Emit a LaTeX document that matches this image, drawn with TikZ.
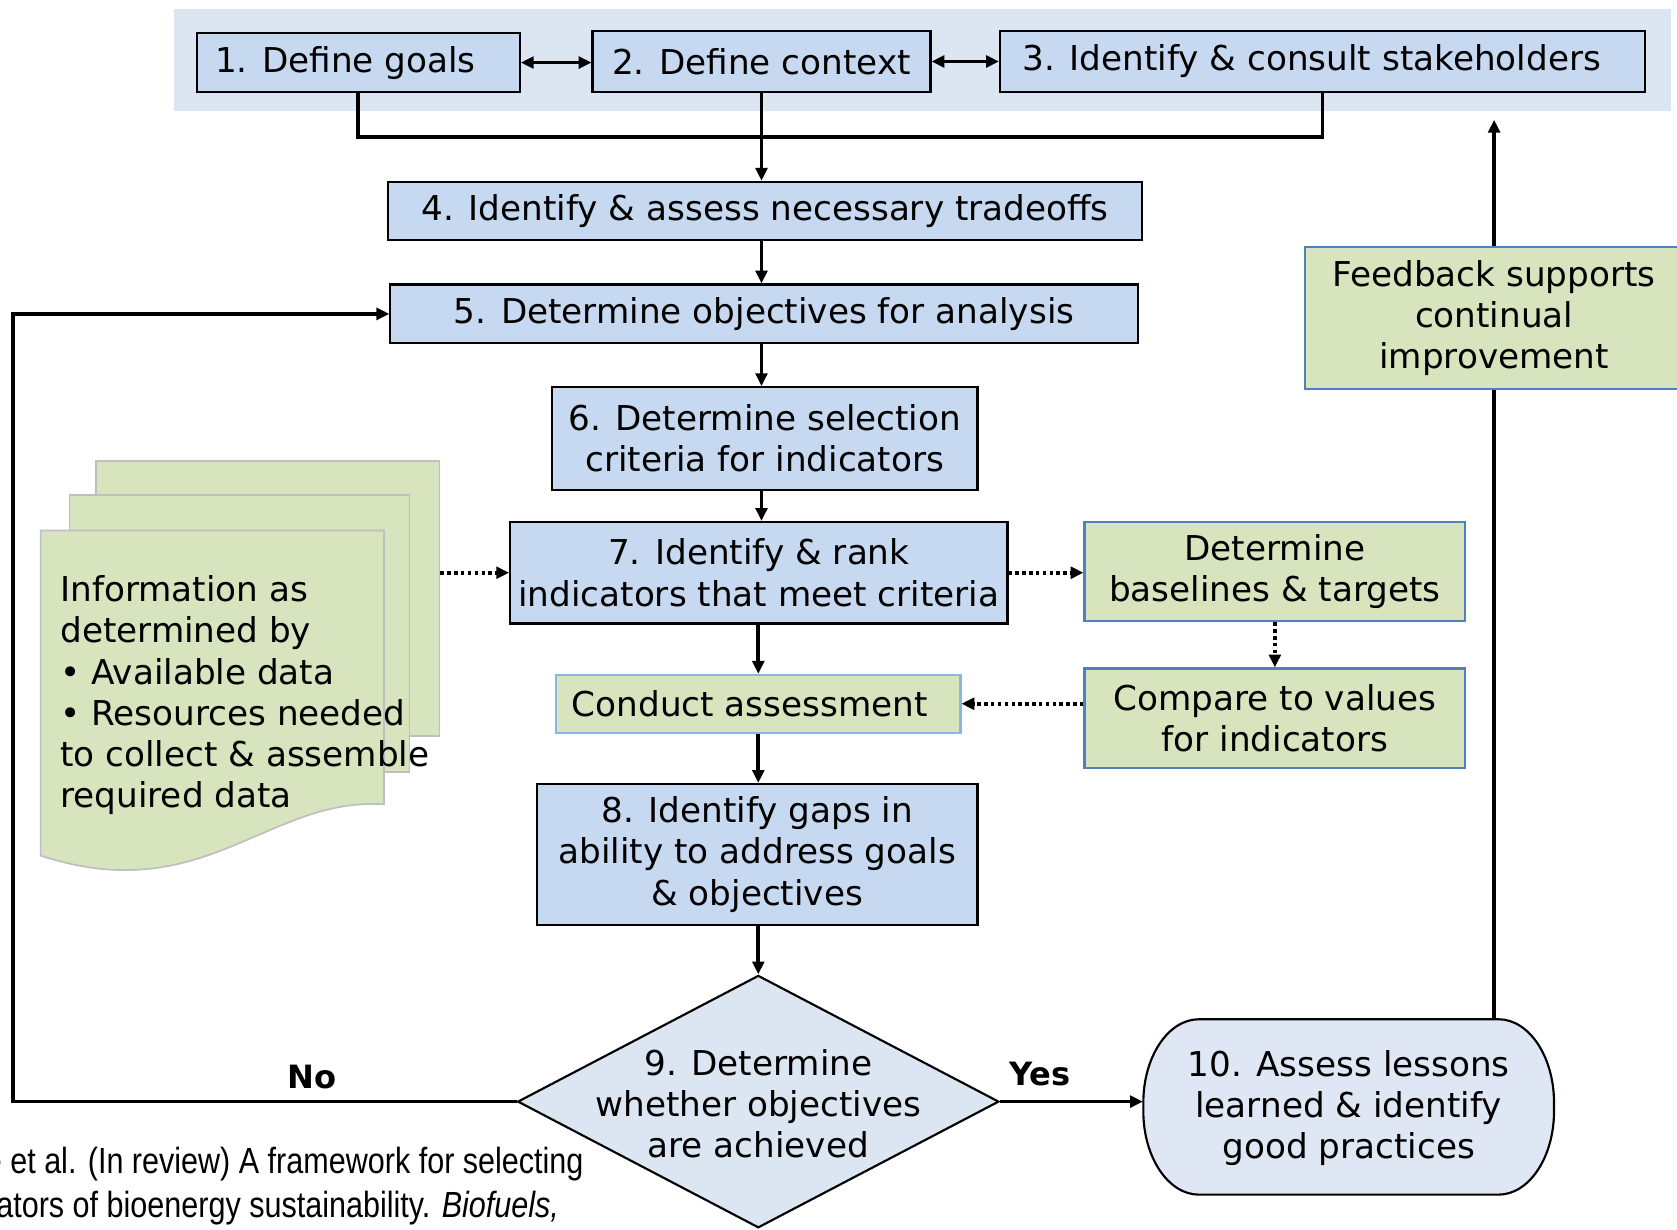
\documentclass[tikz,border=0pt]{standalone}
\usepackage{fontspec}
\setmainfont{DejaVu Sans}
\newfontfamily\citefont[FakeStretch=0.84]{Liberation Sans}
\usetikzlibrary{arrows.meta,shapes.geometric}
\definecolor{bandc}{HTML}{DCE6F2}
\definecolor{boxc}{HTML}{C6D9F1}
\definecolor{greenc}{HTML}{D7E4BD}
\definecolor{gborder}{HTML}{4F81BD}
\definecolor{cborder}{HTML}{8DB3E2}
\definecolor{sheetb}{HTML}{BFBFBF}
\definecolor{lightc}{HTML}{DEE7F3}
\begin{document}
\begin{tikzpicture}[x=0.5pt,y=-0.5pt,
 txt/.style={font=\fontsize{16pt}{19.25pt}\selectfont, align=center},
 bluebox/.style={txt, draw=black, line width=1pt, fill=boxc, inner sep=0pt},
 greenbox/.style={txt, draw=gborder, line width=1pt, fill=greenc, inner sep=0pt},
 sheet/.style={draw=sheetb, line width=0.8pt, fill=greenc},
 conn/.style={line width=1.7pt},
 arr/.style={conn, -{Triangle[length=6pt,width=5.5pt]}},
 dbl/.style={conn, {Triangle[length=6pt,width=5.5pt]}-{Triangle[length=6pt,width=5.5pt]}},
 dotarr/.style={arr, dash pattern=on 1.6pt off 1.6pt},
 lbl/.style={font=\fontsize{15pt}{18pt}\selectfont\bfseries, inner sep=0pt},
 cit/.style={anchor=east, inner sep=0pt, font=\citefont\fontsize{17pt}{21pt}\selectfont},
]
\useasboundingbox (0,0) rectangle (1568,1150);

% top band
\node[fill=bandc, minimum width=699.5pt, minimum height=48pt, inner sep=0pt] (band) at (862.5,56) {};

% main boxes
\node[bluebox, minimum width=151pt, minimum height=27.5pt] (b1) at (335,58.5) {1. Define goals\hspace*{12pt}};
\node[bluebox, minimum width=158pt, minimum height=28.5pt] (b2) at (712,57.5) {2. Define context};
\node[bluebox, minimum width=301.5pt, minimum height=28.5pt] (b3) at (1236.5,57.5) {3. Identify \& consult stakeholders\hspace*{10pt}};
\node[bluebox, minimum width=352.5pt, minimum height=27pt] (b4) at (715.5,197) {4. Identify \& assess necessary tradeoffs};
\node[bluebox, minimum width=349.5pt, minimum height=27.5pt] (b5) at (714.5,293.5) {5. Determine objectives for analysis};
\node[bluebox, minimum width=199pt, minimum height=48pt] (b6) at (715,410) {6. Determine selection\\criteria for indicators};
\node[bluebox, minimum width=232.5pt, minimum height=47.5pt] (b7) at (709.5,535.5) {7. Identify \& rank\\indicators that meet criteria};
\node[greenbox, minimum width=178pt, minimum height=46.5pt] (bb) at (1192,534.5) {Determine\\baselines \& targets};
\node[greenbox, minimum width=178pt, minimum height=46.5pt] (cmp) at (1192,671.5) {Compare to values\\for indicators};
\node[greenbox, draw=cborder, minimum width=189pt, minimum height=27pt] (ca) at (709,658) {Conduct assessment\hspace*{8pt}};
\node[bluebox, minimum width=206pt, minimum height=66pt] (b8) at (708,799) {8. Identify gaps in\\ability to address goals\\\& objectives};

% decision diamond
\node[diamond, draw=black, line width=1pt, fill=bandc, minimum width=225pt, minimum height=118pt, inner sep=0pt] (d9) at (709,1030) {};
\node[txt] (d9t) at (709,1032) {9. Determine\\whether objectives\\are achieved};

% box 10 (rounded ends)
\node[minimum width=192pt, minimum height=82pt, inner sep=0pt] (b10) at (1261,1035) {};
\draw[line width=1pt, fill=lightc] (1121,953) -- (1401,953)
  .. controls (1429.7,953) and (1453,988) .. (1453,1031) -- (1453,1039)
  .. controls (1453,1082) and (1429.7,1117) .. (1401,1117) -- (1121,1117)
  .. controls (1092.3,1117) and (1069,1082) .. (1069,1039) -- (1069,1031)
  .. controls (1069,988) and (1092.3,953) .. (1121,953) -- cycle;
\node[txt] (b10t) at (1261,1036) {10. Assess lessons\\learned \& identify\\good practices};

% feedback box
\node[greenbox, minimum width=177pt, minimum height=66.5pt] (fb) at (1397,297.5) {Feedback supports\\continual\\improvement};

% document stack
\node[sheet, minimum width=160.5pt, minimum height=128.5pt, inner sep=0pt] (docback) at (250.5,559.5) {};
\node[sheet, minimum width=159pt, minimum height=129.5pt, inner sep=0pt] (docmid) at (224,592.5) {};
\draw[sheet] (38,496) -- (359,496) -- (359,752) .. controls (250,745) and (190,850) .. (38,800) -- cycle;
\node[txt, align=left, anchor=west, inner sep=0pt] (doct) at (56,650) {Information as\\determined by\\• Available data\\• Resources needed\\to collect \& assemble\\required data};

% connectors
\coordinate (j) at (712,128);
\draw[conn] (b1.south) -- (b1.south |- j) -- (b3.south |- j) -- (b3.south);
\draw[dbl] (b1.east) -- (b1.east -| b2.west);
\draw[dbl] (b2.east) -- (b3.west);
\draw[arr] (b2.south) -- (b2.south |- b4.north);
\draw[arr] (b2.south |- b4.south) -- (b2.south |- b5.north);
\draw[arr] (b2.south |- b5.south) -- (b2.south |- b6.north);
\draw[arr] (b2.south |- b6.south) -- (b2.south |- b7.north);
\draw[arr] (ca.north |- b7.south) -- (ca.north);
\draw[arr] (ca.south) -- (ca.south |- b8.north);
\draw[arr] (d9.north |- b8.south) -- (d9.north);
\draw[arr] (d9.east) -- (d9.east -| b10.west);
\coordinate (nocol) at (12,0);
\draw[arr] (d9.west) -- (d9.west -| nocol) |- (b5.west);
\draw[conn] (fb.south |- b10.north) -- (fb.south);
\coordinate (fbtip) at (1397,112);
\draw[arr] (fb.north) -- (fbtip);
\draw[dotarr] (docback.east |- b7.west) -- (b7.west);
\draw[dotarr] (b7.east) -- (b7.east -| bb.west);
\draw[dotarr] (bb.south) -- (cmp.north);
\draw[dotarr] (cmp.west |- ca.east) -- (ca.east);

% labels
\node[lbl] (yes) at (972,1004) {Yes};
\node[lbl] (no) at (292,1007) {No};

% citation
\node[cit] (cit1) at (546,1088) {e et al. (In review) A framework for selecting};
\node[cit] (cit2) at (523,1130) {ators of bioenergy sustainability. \textit{Biofuels,}};
\end{tikzpicture}
\end{document}
